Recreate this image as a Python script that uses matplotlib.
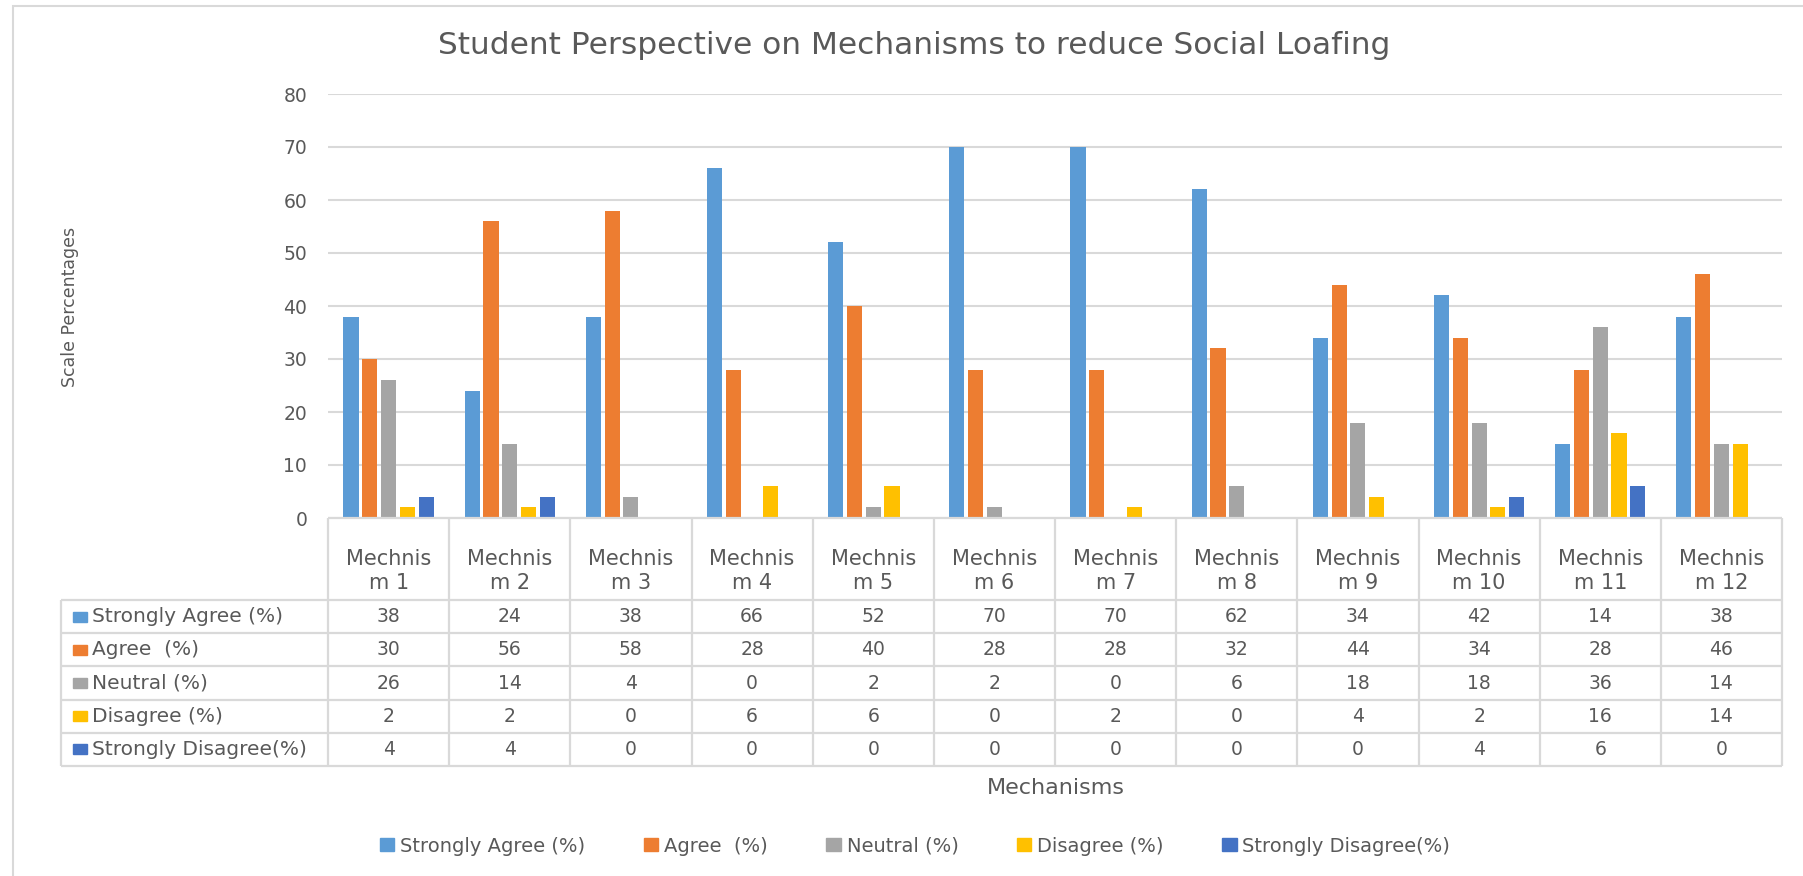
import numpy as np
import matplotlib.pyplot as plt
from matplotlib.patches import Rectangle

plt.rcParams['font.family'] = ['DejaVu Sans']

mechanisms = ['Mechnism 1', 'Mechnism 2', 'Mechnism 3', 'Mechnism 4',
              'Mechnism 5', 'Mechnism 6', 'Mechnism 7', 'Mechnism 8',
              'Mechnism 9', 'Mechnism 10', 'Mechnism 11', 'Mechnism 12']
series = ['Strongly Agree (%)', 'Agree  (%)', 'Neutral (%)',
          'Disagree (%)', 'Strongly Disagree(%)']
strongly_agree = [38, 24, 38, 66, 52, 70, 70, 62, 34, 42, 14, 38]
agree = [30, 56, 58, 28, 40, 28, 28, 32, 44, 34, 28, 46]
neutral = [26, 14, 4, 0, 2, 2, 0, 6, 18, 18, 36, 14]
disagree = [2, 2, 0, 6, 6, 0, 2, 0, 4, 2, 16, 14]
strongly_disagree = [4, 4, 0, 0, 0, 0, 0, 0, 0, 4, 6, 0]
values = [strongly_agree, agree, neutral, disagree, strongly_disagree]

colors = ['#5B9BD5', '#ED7D31', '#A5A5A5', '#FFC000', '#4472C4']
txt = '#595959'
line = '#D9D9D9'

W, H = 1803, 876
fig = plt.figure(figsize=(W / 100, H / 100), dpi=100)

# bar chart area
ax = fig.add_axes([328 / W, 1 - 518 / H, (1782 - 328) / W, (518 - 94) / H])
x = np.arange(len(mechanisms)) + 0.5
width, pitch = 0.125, 0.155
for k, (vals, col) in enumerate(zip(values, colors)):
    ax.bar(x + (k - 2) * pitch, vals, width, color=col, zorder=3)
ax.set_xlim(0, len(mechanisms))
ax.set_ylim(0, 80)
ax.set_yticks(range(0, 81, 10))
ax.set_xticks([])
ax.grid(axis='y', color=line, lw=1.5, zorder=0)
for s in ax.spines.values():
    s.set_visible(False)
ax.tick_params(axis='y', length=0, pad=15, labelsize=13.5, labelcolor=txt)

# data table under the bars (x in category units, y in pixels from top)
n = len(mechanisms)
colw = (1782 - 328) / n
lab_w = (328 - 61) / colw
tb = fig.add_axes([61 / W, 1 - 766 / H, (1782 - 61) / W, (766 - 518) / H])
tb.set_xlim(-lab_w, n)
tb.set_ylim(766, 518)
tb.axis('off')
rows = np.linspace(600, 766, len(series) + 1)
tb.hlines(518, 0, n, color=line, lw=1.6, clip_on=False)
tb.hlines(rows, -lab_w, n, color=line, lw=1.6, clip_on=False)
tb.vlines(np.arange(n + 1), 518, 766, color=line, lw=1.6, clip_on=False)
tb.vlines(-lab_w, 600, 766, color=line, lw=1.6, clip_on=False)
for i, m in enumerate(mechanisms):
    tb.text(i + 0.5, 571, m[:7] + '\n' + m[7:], ha='center', va='center',
            fontsize=15, color=txt, linespacing=1.2)
for r, (name, vals, col) in enumerate(zip(series, values, colors)):
    yc = (rows[r] + rows[r + 1]) / 2
    tb.add_patch(Rectangle((-lab_w + 12 / colw, yc - 5), 14 / colw, 10,
                           color=col, clip_on=False))
    tb.text(-lab_w + 31 / colw, yc, name, ha='left', va='center',
            fontsize=14.5, color=txt)
    for i, v in enumerate(vals):
        tb.text(i + 0.5, yc, str(v), ha='center', va='center', fontsize=13.5,
                color=txt)

fig.text(914 / W, 1 - 46 / H,
         'Student Perspective on Mechanisms to reduce Social Loafing',
         ha='center', va='center', fontsize=22.5, color=txt)
fig.text(70 / W, 1 - 307 / H, 'Scale Percentages', rotation=90,
         ha='center', va='center', fontsize=12.5, color=txt)
fig.text(1056 / W, 1 - 788 / H, 'Mechanisms', ha='center', va='center',
         fontsize=16, color=txt)

handles = [Rectangle((0, 0), 1, 1, color=c) for c in colors]
fig.legend(handles, series, loc='center', bbox_to_anchor=(915 / W, 1 - 846 / H),
           ncol=5, frameon=False, fontsize=14, labelcolor=txt,
           handlelength=0.75, handleheight=0.6, handletextpad=0.3,
           columnspacing=3.0)

fig.add_artist(Rectangle((13 / W, -0.1), 2, 1 - 6 / H + 0.1,
                         transform=fig.transFigure, fill=False, ec=line, lw=1.5))

fig.savefig('out.png', dpi=100)
